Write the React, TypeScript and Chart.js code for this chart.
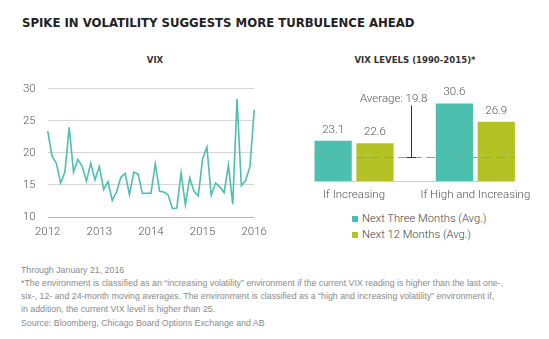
import React, { useEffect, useRef } from "react";
import { Chart, registerables } from "chart.js";

Chart.register(...registerables);

// ---- data ----
const VIX_VALUES = [
  23.4, 19.5, 18.4, 15.3, 17.0, 24.0, 17.0, 19.0, 17.9, 15.6, 18.4, 15.8,
  17.9, 14.3, 15.5, 12.6, 13.9, 16.2, 16.8, 13.5, 17.0, 16.7, 13.7, 13.7,
  13.7, 18.3, 14.0, 13.9, 13.4, 11.3, 11.4, 16.9, 11.9, 16.1, 14.0, 13.3,
  19.1, 20.9, 13.4, 15.3, 14.7, 13.8, 18.1, 12.0, 28.4, 14.9, 15.7, 17.9,
  26.7,
];
const YEAR_TICKS = ["2012", "2013", "2014", "2015", "2016"];
const MONTH_LABELS = VIX_VALUES.map(
  (_, i) => `${2012 + Math.floor(i / 12)}-${String((i % 12) + 1).padStart(2, "0")}`
);

const BAR_CATEGORIES = ["If Increasing", "If High and Increasing"];
const NEXT_THREE_MONTHS = [23.1, 30.6];
const NEXT_TWELVE_MONTHS = [22.6, 26.9];
const SERIES_NAMES = ["Next Three Months (Avg.)", "Next 12 Months (Avg.)"];
const AVERAGE_VIX = 19.8;

const TEAL = "#4dbfae";
const GREEN = "#b3c325";
const TICK_FONT = { family: "Roboto", size: 11.5, weight: "300" as any };

const FOOTNOTES = [
  "Through January 21, 2016",
  "*The environment is classified as an \u201cincreasing volatility\u201d environment if the current VIX reading is higher than the last one-,",
  "six-, 12- and 24-month moving averages. The environment is classified as a \u201chigh and increasing volatility\u201d environment if,",
  "in addition, the current VIX level is higher than 25.",
  "Source: Bloomberg, Chicago Board Options Exchange and AB",
];

const barAnnotations = {
  id: "barAnnotations",
  afterDatasetsDraw(chart: any) {
    const ctx = chart.ctx;
    const y = chart.scales.y;
    const m0 = chart.getDatasetMeta(0).data;
    const m1 = chart.getDatasetMeta(1).data;
    const left = m0[0].x - m0[0].width / 2;
    const right = m1[1].x + m1[1].width / 2;
    const bottom = chart.chartArea.bottom;
    ctx.save();
    // baseline
    ctx.strokeStyle = "#cfcfcf";
    ctx.lineWidth = 1;
    ctx.beginPath();
    ctx.moveTo(left, bottom + 0.5);
    ctx.lineTo(right, bottom + 0.5);
    ctx.stroke();
    // average dashed line
    const ay = Math.round(y.getPixelForValue(AVERAGE_VIX)) + 0.5;
    ctx.strokeStyle = "#9a9a9a";
    ctx.lineWidth = 1.2;
    ctx.setLineDash([9, 5]);
    ctx.beginPath();
    ctx.moveTo(left, ay);
    ctx.lineTo(right, ay);
    ctx.stroke();
    ctx.setLineDash([]);
    // average marker
    const gapMid = (m1[0].x + m1[0].width / 2 + m0[1].x - m0[1].width / 2) / 2 - 4;
    const mx = Math.round(gapMid) + 0.5;
    ctx.strokeStyle = "#333";
    ctx.lineWidth = 1;
    ctx.beginPath();
    ctx.moveTo(mx, ay - 52);
    ctx.lineTo(mx, ay);
    ctx.moveTo(mx - 4.5, ay);
    ctx.lineTo(mx + 4.5, ay);
    ctx.stroke();
    ctx.font = "300 11.5px Roboto";
    ctx.fillStyle = "#555";
    ctx.textAlign = "right";
    ctx.textBaseline = "middle";
    ctx.fillText(`Average: ${AVERAGE_VIX}`, mx + 16, ay - 58);
    // value labels
    ctx.textAlign = "center";
    [0, 1].forEach((d) => {
      chart.getDatasetMeta(d).data.forEach((bar: any, i: number) => {
        const v = chart.data.datasets[d].data[i];
        ctx.fillText(v.toFixed(1), bar.x, bar.y - 11);
      });
    });
    ctx.restore();
  },
};

function LineChart() {
  const ref = useRef<HTMLCanvasElement>(null);
  useEffect(() => {
    const chart = new Chart(ref.current!, {
      type: "line",
      data: {
        labels: MONTH_LABELS,
        datasets: [
          {
            data: VIX_VALUES,
            borderColor: TEAL,
            borderWidth: 1.6,
            pointRadius: 0,
            tension: 0,
            fill: false,
          },
        ],
      },
      options: {
        animation: false,
        responsive: false,
        layout: { padding: { top: 5, right: 13.3, left: 0, bottom: 0 } },
        plugins: { legend: { display: false }, tooltip: { enabled: false } },
        scales: {
          x: {
            offset: false,
            grid: { display: false, drawTicks: false },
            border: { display: false },
            afterFit: (s: any) => {
              s.height = 25;
            },
            ticks: {
              autoSkip: false,
              maxRotation: 0,
              padding: 8,
              color: "#555",
              font: TICK_FONT,
              callback: (_v: any, i: number) =>
                i % 12 === 0 ? YEAR_TICKS[i / 12] : null,
            },
          },
          y: {
            min: 10,
            max: 30,
            border: { display: false },
            afterFit: (s: any) => {
              s.width = 47.7;
            },
            grid: {
              drawTicks: false,
              color: (c: any) => (c.tick && c.tick.value === 10 ? "#b5b5b5" : "#d6d6d6"),
              lineWidth: 1,
            },
            ticks: { stepSize: 5, padding: 12, color: "#555", font: TICK_FONT },
          },
        },
      },
    });
    return () => chart.destroy();
  }, []);
  return (
    <canvas
      ref={ref}
      width={275}
      height={172}
      style={{ position: "absolute", left: 0, top: 70, display: "block" }}
    />
  );
}

function BarChart() {
  const ref = useRef<HTMLCanvasElement>(null);
  useEffect(() => {
    const chart = new Chart(ref.current!, {
      type: "bar",
      data: {
        labels: BAR_CATEGORIES,
        datasets: [
          {
            label: SERIES_NAMES[0],
            data: NEXT_THREE_MONTHS,
            backgroundColor: TEAL,
            categoryPercentage: 0.69,
            barPercentage: 0.89,
          },
          {
            label: SERIES_NAMES[1],
            data: NEXT_TWELVE_MONTHS,
            backgroundColor: GREEN,
            categoryPercentage: 0.69,
            barPercentage: 0.89,
          },
        ],
      },
      options: {
        animation: false,
        responsive: false,
        layout: { padding: { top: 21.6, right: 13, left: 13.4, bottom: 0 } },
        plugins: { legend: { display: false }, tooltip: { enabled: false } },
        scales: {
          x: {
            grid: { display: false, drawTicks: false },
            border: { display: false },
            afterFit: (s: any) => {
              s.height = 24;
            },
            ticks: { padding: 7, color: "#555", font: TICK_FONT, maxRotation: 0 },
          },
          y: { display: false, min: 15, max: 35 },
        },
      },
      plugins: [barAnnotations],
    });
    return () => chart.destroy();
  }, []);
  return (
    <canvas
      ref={ref}
      width={269}
      height={145}
      style={{ position: "absolute", left: 280, top: 60, display: "block" }}
    />
  );
}

export default function App() {
  const legendColors = [TEAL, GREEN];
  const subtitleStyle: React.CSSProperties = {
    position: "absolute",
    top: 54,
    textAlign: "center",
    fontFamily: "'DejaVu Sans Condensed', 'DejaVu Sans', sans-serif",
    fontStretch: "condensed",
    fontWeight: 700,
    fontSize: 9.5,
    lineHeight: "12px",
    color: "#333",
    whiteSpace: "nowrap",
  };
  return (
    <div
      style={{
        position: "absolute",
        left: 0,
        top: 0,
        width: 549,
        height: 339,
        background: "#fff",
        overflow: "hidden",
        fontFamily: "Roboto, sans-serif",
      }}
    >
      <div
        style={{
          position: "absolute",
          left: 22,
          top: 14.5,
          fontFamily: "'DejaVu Sans Condensed', 'DejaVu Sans', sans-serif",
          fontStretch: "condensed",
          fontWeight: 700,
          fontSize: 13,
          lineHeight: "16px",
          color: "#222",
          whiteSpace: "nowrap",
        }}
      >
        SPIKE IN VOLATILITY SUGGESTS MORE TURBULENCE AHEAD
      </div>
      <div style={{ ...subtitleStyle, left: 105, width: 100 }}>VIX</div>
      <div style={{ ...subtitleStyle, left: 340, width: 150 }}>VIX LEVELS (1990-2015)*</div>
      <LineChart />
      <BarChart />
      <div style={{ position: "absolute", left: 352, top: 210.5 }}>
        {SERIES_NAMES.map((name, i) => (
          <div
            key={name}
            style={{
              display: "flex",
              alignItems: "center",
              height: 16.3,
              fontSize: 11.2,
              fontWeight: 300,
              color: "#444",
              whiteSpace: "nowrap",
            }}
          >
            <span
              style={{
                width: 6,
                height: 6,
                background: legendColors[i],
                marginRight: 4,
                display: "inline-block",
              }}
            />
            {name}
          </div>
        ))}
      </div>
      <div
        style={{
          position: "absolute",
          left: 21,
          top: 263.5,
          fontFamily: "'Liberation Sans', Arial, sans-serif",
          fontSize: 8.8,
          lineHeight: "13.3px",
          color: "#8a8a8a",
          whiteSpace: "nowrap",
        }}
      >
        {FOOTNOTES.map((t) => (
          <div key={t}>{t}</div>
        ))}
      </div>
    </div>
  );
}
